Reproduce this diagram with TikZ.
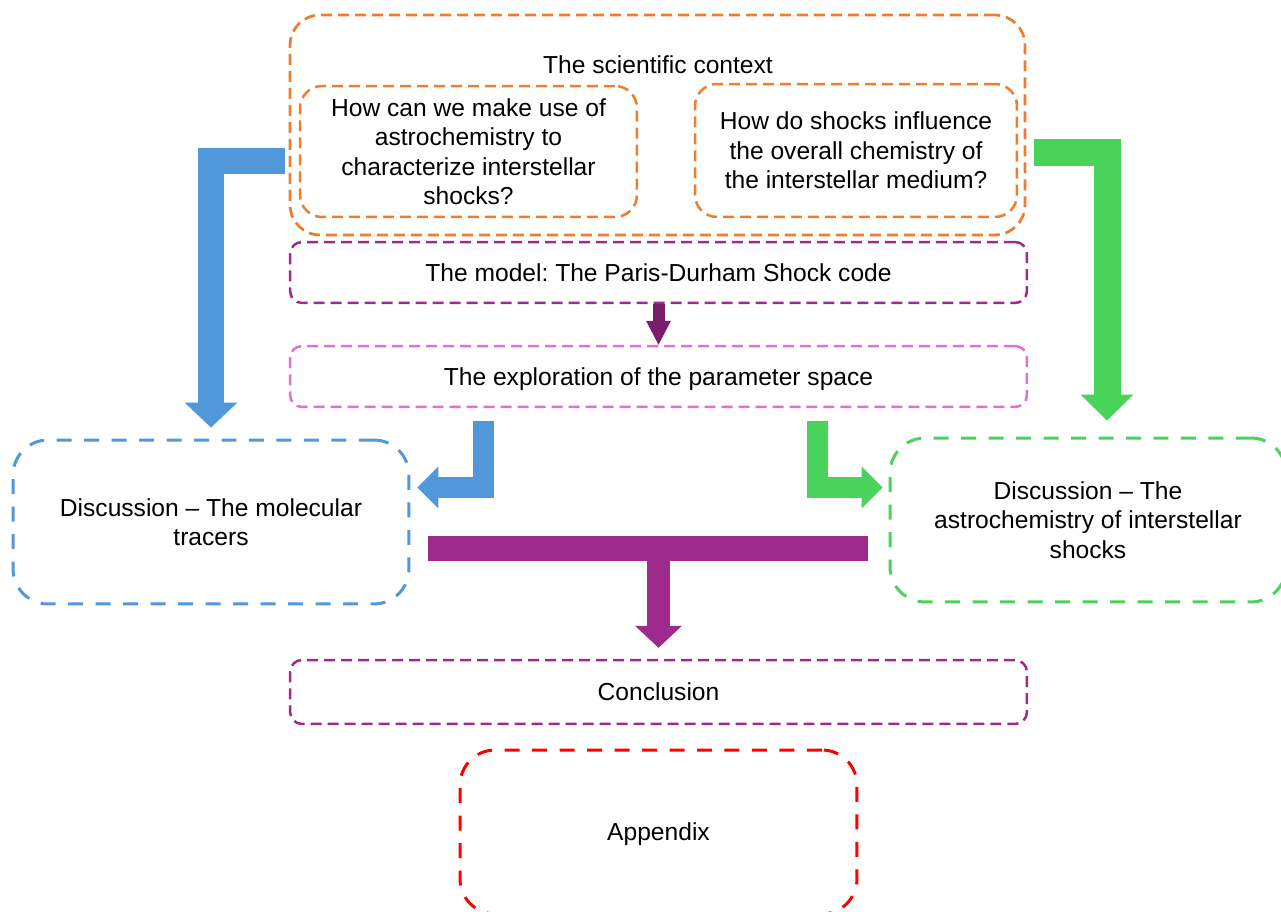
\documentclass[tikz,border=0pt]{standalone}
\usepackage{fontspec}
\setmainfont{Liberation Sans}
\usetikzlibrary{arrows.meta}
\frenchspacing

\definecolor{ctxorange}{HTML}{ED7D31}
\definecolor{modelpurple}{HTML}{9E2A8E}
\definecolor{arrowpurple}{HTML}{7A1E6C}
\definecolor{exppink}{HTML}{DD72D3}
\definecolor{tracerblue}{HTML}{5198DA}
\definecolor{chemgreen}{HTML}{4AD35B}
\definecolor{appred}{HTML}{FF0000}

\tikzset{
	chapbox/.style={draw=#1, rounded corners=0.7cm, line width=0.06cm, dash pattern=on 0.3cm off 0.25cm},
	smallbox/.style={draw=#1, rounded corners=0.24cm, line width=0.05cm, dash pattern=on 0.22cm off 0.12cm},
	oneline/.style={text depth=0pt},
	blockarrow/.style={line join=miter, line cap=butt, draw=#1}
}

\begin{document}
\begin{tikzpicture}[x=0.02cm, y=-0.02cm, every node/.style={font=\fontsize{14}{16.8}\selectfont, align=center, inner sep=0pt}]

	\useasboundingbox (0,0) rectangle (1281,912);

	%the scientific context with its two questions
	\node[smallbox=ctxorange, rounded corners=0.6cm, line width=0.055cm, minimum width=14.7cm, minimum height=4.4cm] (ctx) at (657.5,125) {};
	\node[oneline] (ctxtitle) at (658,65) {The scientific context};
	\node[smallbox=ctxorange, rounded corners=0.44cm, minimum width=6.74cm, minimum height=2.62cm] (q1) at (468.5,151.5) {How can we make use of\\astrochemistry to\\characterize interstellar\\shocks?};
	\node[smallbox=ctxorange, rounded corners=0.44cm, minimum width=6.44cm, minimum height=2.66cm] (q2) at (856,150.5) {How do shocks influence\\the overall chemistry of\\the interstellar medium?};

	%model and parameter space
	\node[smallbox=modelpurple, oneline, minimum width=14.74cm, minimum height=1.22cm] (model) at (658.5,272.5) {The model: The Paris-Durham Shock code};
	\node[smallbox=exppink, oneline, minimum width=14.74cm, minimum height=1.22cm] (explo) at (658.5,376.5) {The exploration of the parameter space};
	\draw[blockarrow=arrowpurple, line width=0.24cm, -{Triangle[width=0.5cm 0 0, length=0.48cm 0 0, line width=0pt 0 0]}] (model.south) -- (explo.north);

	%the two discussion chapters
	\node[chapbox=tracerblue, minimum width=7.92cm, minimum height=3.28cm] (discL) at (211,522) {Discussion -- The molecular\\tracers};
	\node[chapbox=chemgreen, minimum width=7.92cm, minimum height=3.28cm] (discR) at (1088,520) {Discussion -- The\\astrochemistry of interstellar\\shocks};

	%conclusion and appendix
	\node[smallbox=modelpurple, oneline, minimum width=14.74cm, minimum height=1.28cm] (concl) at (658.5,692) {Conclusion};
	\node[chapbox=appred, oneline, minimum width=7.94cm, minimum height=3.28cm] (appx) at (658.5,832) {Appendix};

	%big arrows from the context to the discussions
	\draw[blockarrow=tracerblue, line width=0.52cm, -{Triangle[width=1.06cm 0 0, length=0.5cm 0 0, line width=0pt 0 0]}] ([xshift=-0.08cm, yshift=-0.72cm]ctx.west) -| ([yshift=0.22cm]discL.north);
	\draw[blockarrow=chemgreen, line width=0.54cm, -{Triangle[width=1.06cm 0 0, length=0.52cm 0 0, line width=0pt 0 0]}] ([xshift=0.16cm, yshift=-0.56cm]ctx.east) -| ([xshift=0.38cm, yshift=0.32cm]discR.north);

	%small arrows from the parameter space
	\draw[blockarrow=tracerblue, line width=0.42cm, -{Triangle[width=0.84cm 0 0, length=0.42cm 0 0, line width=0pt 0 0]}] ([xshift=-3.5cm, yshift=-0.26cm]explo.south) |- ([xshift=0.14cm, yshift=0.69cm]discL.east);
	\draw[blockarrow=chemgreen, line width=0.42cm, -{Triangle[width=0.84cm 0 0, length=0.42cm 0 0, line width=0pt 0 0]}] ([xshift=3.18cm, yshift=-0.26cm]explo.south) |- ([xshift=-0.12cm, yshift=0.65cm]discR.west);

	%joining bar down to the conclusion
	\coordinate (barL) at ([xshift=0.36cm, yshift=-0.53cm]discL.east);
	\draw[blockarrow=modelpurple, line width=0.5cm] (barL) -- (barL -| 868,0);
	\draw[blockarrow=modelpurple, line width=0.46cm, -{Triangle[width=0.94cm 0 0, length=0.44cm 0 0, line width=0pt 0 0]}] (barL -| concl.north) -- ([yshift=0.22cm]concl.north);

\end{tikzpicture}
\end{document}
